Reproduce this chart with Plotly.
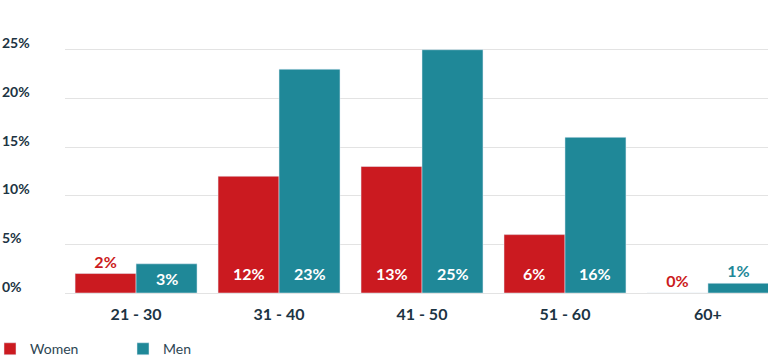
import plotly.graph_objects as go

categories = ["21 - 30", "31 - 40", "41 - 50", "51 - 60", "60+"]
women = [2, 12, 13, 6, 0]
men = [3, 23, 25, 16, 1]
women_inside = [False, True, True, True, False]
men_inside = [True, True, True, True, False]
y_ticks = [0, 5, 10, 15, 20, 25]
y_tick_labels = ["0%", "5%", "10%", "15%", "20%", "25%"]

RED = "#CB1A20"
TEAL = "#1F8898"
DARK = "#1C3443"
FONT = "Lato"

Y_MAX = 26
PLOT_H = 253  # plot area height in px
BAR_HALF = 30.5  # half bar width in px

fig = go.Figure()
for name, vals, inside, color, sign in [
    ("Women", women, women_inside, RED, -1),
    ("Men", men, men_inside, TEAL, 1),
]:
    fig.add_trace(go.Bar(
        name=name, x=categories, y=vals, marker_color=color,
        text=[("" if ins else f"{v}%") for v, ins in zip(vals, inside)],
        textposition="outside",
        outsidetextfont=dict(family=FONT, size=16, color=color, weight="bold"),
        cliponaxis=False,
    ))
    for c, v, ins in zip(categories, vals, inside):
        if ins:
            h_px = v * PLOT_H / Y_MAX
            center = min(20, h_px / 2)
            fig.add_annotation(x=c, y=0, xref="x", yref="y", xshift=sign * BAR_HALF,
                               yshift=center, yanchor="middle", showarrow=False,
                               text=f"{v}%",
                               font=dict(family=FONT, size=16, color="white", weight="bold"))

for v, lab in zip(y_ticks, y_tick_labels):
    fig.add_annotation(x=0, xref="paper", xshift=-65, xanchor="left",
                       y=v, yref="y", yshift=7, showarrow=False, text=lab,
                       font=dict(family=FONT, size=14, color=DARK, weight="bold"))

fig.update_layout(
    width=768, height=360,
    margin=dict(l=65, r=0, t=40, b=67, autoexpand=False),
    paper_bgcolor="white", plot_bgcolor="white",
    barmode="group", bargap=0.147, bargroupgap=0,
    showlegend=True,
    legend=dict(orientation="h", x=-75/703, xanchor="left", y=-0.222, yanchor="middle",
                font=dict(family=FONT, size=14, color="#2D4653"),
                entrywidth=88, entrywidthmode="pixels", traceorder="normal"),
    xaxis=dict(range=[-0.497, 4.42], showgrid=False, showline=False, ticks="",
               ticklabelstandoff=10,
               tickfont=dict(family=FONT, size=16, color=DARK, weight="bold")),
    yaxis=dict(range=[0, Y_MAX], tickvals=y_ticks, showticklabels=False,
               showgrid=True, gridcolor="#E3E3E3", gridwidth=1,
               zeroline=True, zerolinecolor="#E3E3E3", zerolinewidth=1,
               showline=False, ticks=""),
)

fig.write_html("out.html")
